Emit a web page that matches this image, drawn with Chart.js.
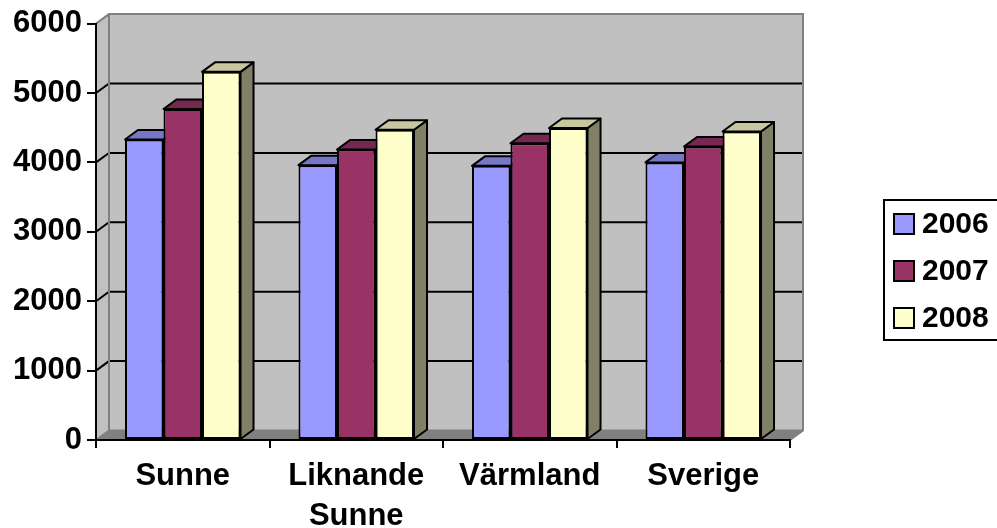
<!DOCTYPE html>
<html>
<head>
<meta charset="utf-8">
<script src="https://cdn.jsdelivr.net/npm/chart.js@4"></script>
<style>
  html, body { margin: 0; padding: 0; background: #fff; overflow: hidden; }
  canvas { display: block; }
</style>
</head>
<body>
<canvas id="chart" width="997" height="528"></canvas>
<script>
// data
const categories = ["Sunne", ["Liknande", "Sunne"], "Värmland", "Sverige"];
const years = ["2006", "2007", "2008"];
const values2006 = [4330, 3960, 3950, 4000];
const values2007 = [4770, 4185, 4275, 4230];
const values2008 = [5305, 4470, 4495, 4445];
const yMin = 0, yMax = 6000, yStep = 1000;

const colors = ["#9999ff", "#993366", "#ffffcc"];
const FONT = "'Liberation Sans', Arial, sans-serif";
const DX = 13, DY = -9.5;   // depth offset of the fake 3d

function shade(hex, f) {
  const n = parseInt(hex.slice(1), 16);
  const r = Math.round(((n >> 16) & 255) * f);
  const g = Math.round(((n >> 8) & 255) * f);
  const b = Math.round((n & 255) * f);
  return "rgb(" + r + "," + g + "," + b + ")";
}

function poly(ctx, pts, fill, stroke, lw) {
  ctx.beginPath();
  ctx.moveTo(pts[0][0], pts[0][1]);
  for (let i = 1; i < pts.length; i++) ctx.lineTo(pts[i][0], pts[i][1]);
  ctx.closePath();
  if (fill) { ctx.fillStyle = fill; ctx.fill(); }
  if (stroke) { ctx.strokeStyle = stroke; ctx.lineWidth = lw || 1; ctx.stroke(); }
}

/* walls, floor and back grid */
const walls = {
  id: "walls",
  beforeDraw(chart) {
    const ctx = chart.ctx;
    const a = chart.chartArea;
    const y = chart.scales.y;
    ctx.save();
    ctx.fillStyle = "#fff";
    ctx.fillRect(0, 0, chart.width, chart.height);
    // back wall
    poly(ctx, [[a.left + DX, a.top + DY], [a.right + DX, a.top + DY],
               [a.right + DX, a.bottom + DY], [a.left + DX, a.bottom + DY]], "#c0c0c0");
    // left wall
    poly(ctx, [[a.left, a.top], [a.left + DX, a.top + DY],
               [a.left + DX, a.bottom + DY], [a.left, a.bottom]], "#c0c0c0");
    // floor
    poly(ctx, [[a.left, a.bottom], [a.left + DX, a.bottom + DY],
               [a.right + DX, a.bottom + DY], [a.right, a.bottom]], "#808080");
    // grid on the walls
    y.ticks.forEach(t => {
      if (t.value <= yMin || t.value >= yMax) return;
      const py = y.getPixelForValue(t.value);
      ctx.beginPath();
      ctx.moveTo(a.left, py);
      ctx.lineTo(a.left + DX, py + DY);
      ctx.lineTo(a.right + DX, py + DY);
      ctx.strokeStyle = "#000";
      ctx.lineWidth = 2;
      ctx.stroke();
    });
    // grey wall edges
    ctx.beginPath();
    ctx.moveTo(a.left, a.top);
    ctx.lineTo(a.left + DX, a.top + DY);
    ctx.lineTo(a.right + DX, a.top + DY);
    ctx.lineTo(a.right + DX, a.bottom + DY);
    ctx.lineTo(a.right, a.bottom);
    ctx.moveTo(a.left + DX, a.top + DY);
    ctx.lineTo(a.left + DX, a.bottom + DY);
    ctx.lineTo(a.right + DX, a.bottom + DY);
    ctx.moveTo(a.left, a.bottom);
    ctx.lineTo(a.left + DX, a.bottom + DY);
    ctx.strokeStyle = "#808080";
    ctx.lineWidth = 2;
    ctx.stroke();
    ctx.restore();
  }
};

/* tops and right sides of the bars */
const barDepth = {
  id: "barDepth",
  beforeDatasetsDraw(chart) {
    const ctx = chart.ctx;
    ctx.save();
    ctx.lineJoin = "round";
    chart.data.datasets.forEach((ds, i) => {
      const meta = chart.getDatasetMeta(i);
      meta.data.forEach(bar => {
        const L = bar.x - bar.width / 2, R = bar.x + bar.width / 2;
        const T = bar.y, B = bar.base;
        poly(ctx, [[R, T], [R + DX, T + DY], [R + DX, B + DY], [R, B]],
             shade(ds.backgroundColor, 0.5), "#000", 2);
        poly(ctx, [[L, T], [R, T], [R + DX, T + DY], [L + DX, T + DY]],
             shade(ds.backgroundColor, 0.78), "#000", 2);
      });
    });
    ctx.restore();
  }
};

/* boxed legend on the right, cut off by the right edge */
const boxLegend = {
  id: "boxLegend",
  afterDraw(chart) {
    const ctx = chart.ctx;
    ctx.save();
    ctx.strokeStyle = "#000";
    ctx.lineWidth = 2;
    ctx.beginPath();
    ctx.moveTo(1010, 200);
    ctx.lineTo(884, 200);
    ctx.lineTo(884, 340);
    ctx.lineTo(1010, 340);
    ctx.stroke();
    ctx.font = "bold 30px " + FONT;
    ctx.textBaseline = "middle";
    chart.data.datasets.forEach((ds, i) => {
      const cy = 224 + i * 47;
      ctx.fillStyle = ds.backgroundColor;
      ctx.fillRect(894, cy - 10, 20, 20);
      ctx.strokeRect(894, cy - 10, 20, 20);
      ctx.fillStyle = "#000";
      ctx.fillText(ds.label, 922, cy + 1);
    });
    ctx.restore();
  }
};

const series = [values2006, values2007, values2008];

new Chart(document.getElementById("chart"), {
  type: "bar",
  data: {
    labels: categories,
    datasets: years.map((yr, i) => ({
      label: yr,
      data: series[i],
      backgroundColor: colors[i],
      borderColor: "#000",
      borderWidth: 2,
      borderSkipped: false,
      categoryPercentage: 0.666,
      barPercentage: 1
    }))
  },
  options: {
    responsive: false,
    animation: false,
    layout: { padding: { top: 22, right: 207, bottom: 0, left: 0 } },
    plugins: {
      legend: { display: false },
      tooltip: { enabled: false }
    },
    scales: {
      x: {
        offset: true,
        grid: { offset: true, drawOnChartArea: false, drawTicks: true, tickLength: 8, color: "#000", lineWidth: 2 },
        border: { display: true, color: "#000", width: 2 },
        ticks: {
          color: "#000",
          padding: 8,
          maxRotation: 0,
          font: { family: FONT, size: 31, weight: "bold", lineHeight: 1.3 }
        },
        afterFit: s => { s.height = 88; }
      },
      y: {
        min: yMin,
        max: yMax,
        grid: { drawOnChartArea: false, drawTicks: true, tickLength: 9, color: "#000", lineWidth: 2 },
        border: { display: true, color: "#000", width: 2 },
        ticks: {
          stepSize: yStep,
          color: "#000",
          padding: 5,
          font: { family: FONT, size: 31, weight: "bold" },
          callback: v => String(v)
        },
        afterFit: s => { s.width = 96; }
      }
    }
  },
  plugins: [walls, barDepth, boxLegend]
});
</script>
</body>
</html>
